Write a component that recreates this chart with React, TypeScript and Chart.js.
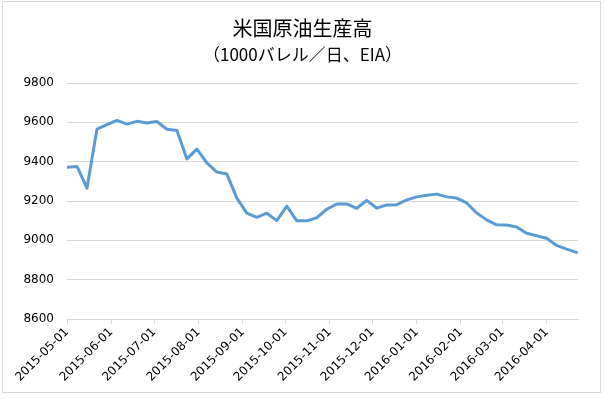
import React, { useEffect, useRef } from "react";
import { Chart, registerables } from "chart.js";

Chart.register(...registerables);

const titleText = "米国原油生産高";
const subtitleText = "（1000バレル／日、EIA）";

const weekDates = [
  "2015-05-01", "2015-05-08", "2015-05-15", "2015-05-22", "2015-05-29",
  "2015-06-05", "2015-06-12", "2015-06-19", "2015-06-26",
  "2015-07-03", "2015-07-10", "2015-07-17", "2015-07-24", "2015-07-31",
  "2015-08-07", "2015-08-14", "2015-08-21", "2015-08-28",
  "2015-09-04", "2015-09-11", "2015-09-18", "2015-09-25",
  "2015-10-02", "2015-10-09", "2015-10-16", "2015-10-23", "2015-10-30",
  "2015-11-06", "2015-11-13", "2015-11-20", "2015-11-27",
  "2015-12-04", "2015-12-11", "2015-12-18", "2015-12-25",
  "2016-01-01", "2016-01-08", "2016-01-15", "2016-01-22", "2016-01-29",
  "2016-02-05", "2016-02-12", "2016-02-19", "2016-02-26",
  "2016-03-04", "2016-03-11", "2016-03-18", "2016-03-25",
  "2016-04-01", "2016-04-08", "2016-04-15", "2016-04-22",
];

const production = [
  9372, 9376, 9265, 9566, 9588,
  9610, 9591, 9605, 9597,
  9604, 9565, 9559, 9414, 9464,
  9394, 9347, 9337, 9215,
  9138, 9117, 9138, 9100,
  9174, 9099, 9099, 9115, 9158,
  9185, 9185, 9163, 9203,
  9164, 9180, 9181, 9206,
  9221, 9229, 9235, 9221, 9215,
  9190, 9139, 9104, 9079,
  9078, 9068, 9036, 9023,
  9011, 8974, 8955, 8939,
];

const monthTickLabels = [
  "2015-05-01", "2015-06-01", "2015-07-01", "2015-08-01",
  "2015-09-01", "2015-10-01", "2015-11-01", "2015-12-01",
  "2016-01-01", "2016-02-01", "2016-03-01", "2016-04-01",
];

const yMin = 8600;
const yMax = 9800;
const yStep = 200;

const DAY = 86400000;
const toDay = (s: string) => {
  const [y, m, d] = s.split("-").map(Number);
  return Date.UTC(y, m - 1, d);
};
const origin = toDay(weekDates[0]);
const dayOffset = (s: string) => Math.round((toDay(s) - origin) / DAY);

export default function App() {
  const canvasRef = useRef<HTMLCanvasElement | null>(null);

  useEffect(() => {
    const canvas = canvasRef.current;
    if (!canvas) return;
    const monthTickValues = monthTickLabels.map(dayOffset);
    const labelFor = new Map<number, string>();
    monthTickLabels.forEach((l, i) => labelFor.set(monthTickValues[i], l));

    const decor = {
      id: "decor",
      beforeDraw(chart: any) {
        const ctx = chart.ctx;
        ctx.save();
        ctx.fillStyle = "#ffffff";
        ctx.fillRect(0, 0, chart.width, chart.height);
        ctx.restore();
      },
      afterDraw(chart: any) {
        const ctx = chart.ctx;
        ctx.save();
        ctx.strokeStyle = "#d9d9d9";
        ctx.lineWidth = 1;
        ctx.strokeRect(2.5, 1.5, 598, 391);
        ctx.fillStyle = "#000000";
        ctx.textAlign = "center";
        ctx.textBaseline = "middle";
        ctx.font = '20px "Noto Sans CJK JP"';
        ctx.fillText(titleText, 302.5, 28);
        ctx.font = '17px "Noto Sans CJK JP"';
        ctx.fillText(subtitleText, 302.5, 55);
        ctx.restore();
      },
    };

    const chart = new Chart(canvas, {
      type: "line",
      data: {
        datasets: [
          {
            label: titleText,
            data: weekDates.map((d, i) => ({ x: dayOffset(d), y: production[i] })),
            borderColor: "#5b9bd5",
            borderWidth: 3,
            pointRadius: 0,
            tension: 0,
            borderJoinStyle: "round",
            borderCapStyle: "round",
            fill: false,
          },
        ],
      },
      options: {
        responsive: false,
        animation: false,
        devicePixelRatio: 1,
        layout: { padding: { left: 0, right: 27, top: 83, bottom: 0 } },
        plugins: {
          legend: { display: false },
          title: { display: false },
          tooltip: { enabled: false },
        },
        scales: {
          x: {
            type: "linear",
            min: 0,
            max: 358,
            afterBuildTicks: (scale: any) => {
              scale.ticks = monthTickValues.map((v) => ({ value: v }));
            },
            afterFit: (scale: any) => {
              scale.height = 80;
            },
            ticks: {
              autoSkip: false,
              minRotation: 45,
              maxRotation: 45,
              padding: 1,
              color: "#000000",
              font: { family: "DejaVu Sans", size: 12 },
              callback: (v: any) => labelFor.get(Number(v)) ?? "",
            },
            grid: {
              drawOnChartArea: false,
              drawTicks: true,
              tickLength: 5,
              color: "#d9d9d9",
            },
            border: { display: true, color: "#d9d9d9" },
          },
          y: {
            min: yMin,
            max: yMax,
            afterFit: (scale: any) => {
              scale.width = 67;
            },
            ticks: {
              stepSize: yStep,
              padding: 13,
              color: "#000000",
              font: { family: "DejaVu Sans", size: 12 },
              callback: (v: any) => String(v),
            },
            grid: { color: "#d9d9d9", drawTicks: false },
            border: { display: false },
          },
        },
      },
      plugins: [decor],
    } as any);

    return () => chart.destroy();
  }, []);

  return (
    <div style={{ position: "fixed", left: 0, top: 0, width: 605, height: 399, background: "#fff" }}>
      <canvas ref={canvasRef} width={605} height={399} style={{ display: "block" }} />
    </div>
  );
}
